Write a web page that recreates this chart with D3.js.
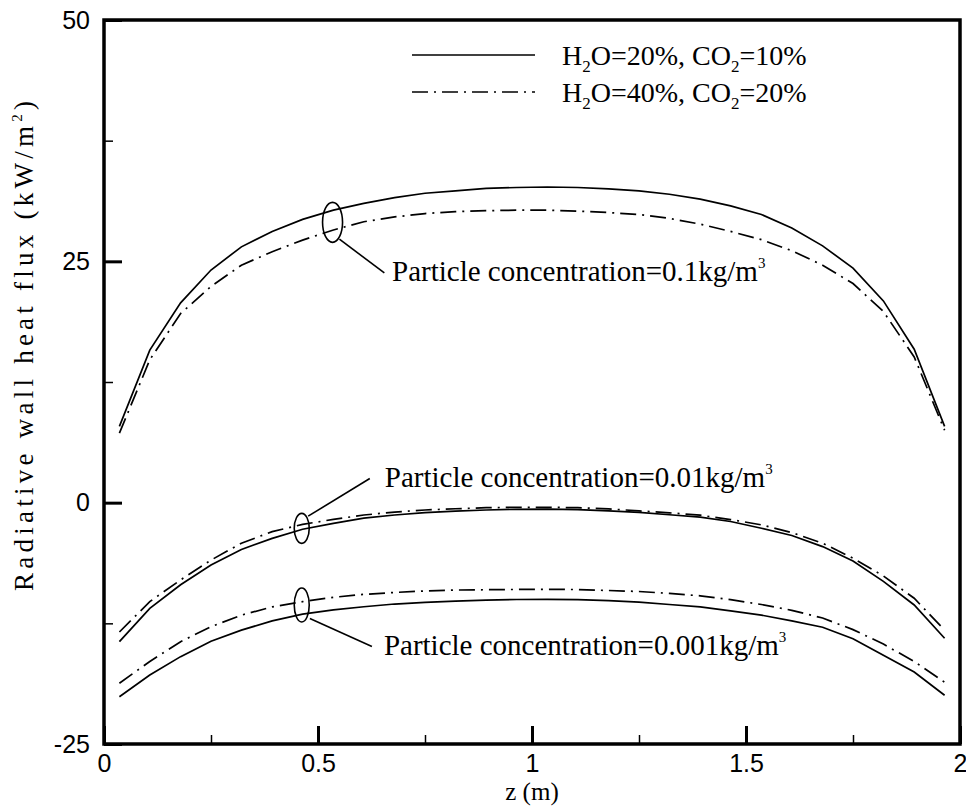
<!DOCTYPE html>
<html>
<head>
<meta charset="utf-8">
<script src="https://cdn.jsdelivr.net/npm/d3@7"></script>
<style>
  body { margin: 0; background: #fff; }
  svg { display: block; }
</style>
</head>
<body>
<svg id="chart" width="966" height="807"></svg>
<script>
// Axial positions along the wall (m)
const zPositions = [0.036, 0.107, 0.179, 0.250, 0.321, 0.393, 0.464, 0.536, 0.607, 0.679,
  0.750, 0.821, 0.893, 0.964, 1.036, 1.107, 1.179, 1.250, 1.321, 1.393,
  1.464, 1.536, 1.607, 1.679, 1.750, 1.821, 1.893, 1.964];

// Radiative wall heat flux (kW/m2), H2O=20%, CO2=10%
const fluxLowGas_c01 = [7.9, 15.8, 20.7, 24.1, 26.5, 28.1, 29.35, 30.3, 31.0, 31.6, 32.05, 32.3, 32.55, 32.65,
  32.7, 32.65, 32.5, 32.3, 31.95, 31.45, 30.75, 29.85, 28.45, 26.6, 24.3, 20.9, 15.9, 7.9];
const fluxLowGas_c001 = [-14.4, -10.95, -8.5, -6.45, -4.85, -3.7, -2.75, -2.15, -1.6, -1.28, -1.04, -0.87, -0.76, -0.69,
  -0.67, -0.72, -0.85, -1.0, -1.25, -1.5, -1.95, -2.65, -3.4, -4.55, -6.05, -8.15, -10.6, -14.05];
const fluxLowGas_c0001 = [-20.1, -17.85, -15.95, -14.35, -13.2, -12.25, -11.55, -11.1, -10.78, -10.5, -10.33, -10.19, -10.09, -10.03,
  -10.01, -10.05, -10.15, -10.3, -10.55, -10.8, -11.2, -11.65, -12.25, -12.9, -14.1, -15.8, -17.55, -19.95];

// Radiative wall heat flux (kW/m2), H2O=40%, CO2=20%
const fluxHighGas_c01 = [7.2, 14.8, 19.6, 22.4, 24.6, 26.0, 27.2, 28.25, 29.1, 29.6, 29.95, 30.15, 30.25, 30.3,
  30.3, 30.2, 30.05, 29.85, 29.45, 28.85, 28.1, 27.25, 26.1, 24.6, 22.7, 19.8, 15.1, 7.5];
const fluxHighGas_c001 = [-13.4, -10.25, -8.0, -5.95, -4.2, -3.0, -2.25, -1.73, -1.28, -0.97, -0.76, -0.63, -0.52, -0.48,
  -0.48, -0.52, -0.65, -0.85, -1.05, -1.3, -1.75, -2.3, -3.1, -4.2, -5.75, -7.6, -9.9, -13.2];
const fluxHighGas_c0001 = [-18.7, -16.45, -14.4, -12.85, -11.65, -10.8, -10.25, -9.8, -9.5, -9.3, -9.15, -9.05, -9.02, -8.99,
  -8.98, -9.0, -9.1, -9.2, -9.4, -9.65, -10.05, -10.55, -11.15, -11.95, -13.15, -14.65, -16.45, -18.6];

// Axis ticks and labels
const xMajorTicks = [0, 0.5, 1, 1.5, 2];
const xMajorLabels = ["0", "0.5", "1", "1.5", "2"];
const xMinorTicks = [0.25, 0.75, 1.25, 1.75];
const yMajorTicks = [-25, 0, 25, 50];
const yMajorLabels = ["-25", "0", "25", "50"];
const yMinorTicks = [-12.5, 12.5, 37.5];

// Legend entries
const legendGas = [
  { h2o: "20", co2: "10", dashed: false },
  { h2o: "40", co2: "20", dashed: true }
];

// Particle concentration callouts (data units): ellipse centre, leader end, label anchor
const callouts = [
  { label: "0.1", cz: 0.534, cv: 29.04, rx: 10, ry: 20, l0: [0.550, 27.3], l1: [0.655, 23.8], t: [0.673, 23.0] },
  { label: "0.01", cz: 0.462, cv: -2.66, rx: 7.5, ry: 15, l0: [0.477, -1.4], l1: [0.621, 2.5], t: [0.656, 1.65] },
  { label: "0.001", cz: 0.462, cv: -10.6, rx: 7.5, ry: 17, l0: [0.481, -12.0], l1: [0.626, -14.9], t: [0.654, -15.75] }
];

const svg = d3.select("#chart");
const plotLeft = 104, plotRight = 960, plotTop = 20, plotBottom = 744;

const x = d3.scaleLinear().domain([0, 2]).range([plotLeft, plotRight]);
const y = d3.scaleLinear().domain([-25, 50]).range([plotBottom, plotTop]);

const serif = "'Liberation Serif', 'Times New Roman', serif";
const sans = "'Liberation Sans', Arial, sans-serif";
const dashPattern = "16,6,2,6";

// Curves
const line = d3.line().x((d, i) => x(zPositions[i])).y(d => y(d));
const curves = [
  { v: fluxLowGas_c01, dashed: false }, { v: fluxHighGas_c01, dashed: true },
  { v: fluxLowGas_c001, dashed: false }, { v: fluxHighGas_c001, dashed: true },
  { v: fluxLowGas_c0001, dashed: false }, { v: fluxHighGas_c0001, dashed: true }
];
svg.append("g").selectAll("path").data(curves).join("path")
  .attr("d", d => line(d.v))
  .attr("fill", "none")
  .attr("stroke", "#000")
  .attr("stroke-width", 1.7)
  .attr("stroke-dasharray", d => d.dashed ? dashPattern : null);

// Major and minor ticks, pointing into the plot
const xMajor = d3.axisBottom(x).tickValues(xMajorTicks)
  .tickFormat((d, i) => xMajorLabels[i]).tickSizeInner(-18).tickSizeOuter(0).tickPadding(10);
const xMinor = d3.axisBottom(x).tickValues(xMinorTicks).tickFormat("").tickSizeInner(-9).tickSizeOuter(0);
const yMajor = d3.axisLeft(y).tickValues(yMajorTicks)
  .tickFormat((d, i) => yMajorLabels[i]).tickSizeInner(-18).tickSizeOuter(0).tickPadding(14);
const yMinor = d3.axisLeft(y).tickValues(yMinorTicks).tickFormat("").tickSizeInner(-9).tickSizeOuter(0);

function styleAxis(g, w) {
  g.select(".domain").remove();
  g.selectAll(".tick line").attr("stroke", "#000").attr("stroke-width", w);
  g.selectAll(".tick text").attr("fill", "#000").style("font-family", sans).style("font-size", "25px");
}
svg.append("g").attr("transform", `translate(0,${plotBottom})`).call(xMajor).call(g => styleAxis(g, 3));
svg.append("g").attr("transform", `translate(0,${plotBottom})`).call(xMinor).call(g => styleAxis(g, 1.5));
svg.append("g").attr("transform", `translate(${plotLeft},0)`).call(yMajor).call(g => styleAxis(g, 3));
svg.append("g").attr("transform", `translate(${plotLeft},0)`).call(yMinor).call(g => styleAxis(g, 1.5));

// Frame
svg.append("rect")
  .attr("x", plotLeft).attr("y", plotTop)
  .attr("width", plotRight - plotLeft).attr("height", plotBottom - plotTop)
  .attr("fill", "none").attr("stroke", "#000").attr("stroke-width", 3.5);

// Axis titles
svg.append("text")
  .attr("x", (plotLeft + plotRight) / 2).attr("y", 800)
  .attr("text-anchor", "middle")
  .style("font-family", serif).style("font-size", "25px")
  .text("z (m)");

const yTitle = svg.append("text")
  .attr("transform", `translate(33,${(97 + 595) / 2}) rotate(-90)`)
  .attr("text-anchor", "middle")
  .attr("textLength", 490).attr("lengthAdjust", "spacing")
  .style("font-family", serif).style("font-size", "27px");
yTitle.append("tspan").text("Radiative wall heat flux (kW/m");
yTitle.append("tspan").attr("dy", -11).style("font-size", "15px").text("2");
yTitle.append("tspan").attr("dy", 11).text(")");

// Legend
const legendY = [55, 92];
const lg = svg.append("g");
legendGas.forEach((d, i) => {
  lg.append("line")
    .attr("x1", 412).attr("x2", 535).attr("y1", legendY[i]).attr("y2", legendY[i])
    .attr("stroke", "#000").attr("stroke-width", 1.7)
    .attr("stroke-dasharray", d.dashed ? dashPattern : null);
  const t = lg.append("text").attr("x", 562).attr("y", legendY[i] + 10)
    .style("font-family", serif).style("font-size", "28px");
  t.append("tspan").text("H");
  t.append("tspan").attr("dy", 7).style("font-size", "17px").text("2");
  t.append("tspan").attr("dy", -7).text(`O=${d.h2o}%, CO`);
  t.append("tspan").attr("dy", 7).style("font-size", "17px").text("2");
  t.append("tspan").attr("dy", -7).text(`=${d.co2}%`);
});

// Callouts
const cg = svg.append("g");
callouts.forEach(c => {
  cg.append("ellipse")
    .attr("cx", x(c.cz)).attr("cy", y(c.cv)).attr("rx", c.rx).attr("ry", c.ry)
    .attr("fill", "none").attr("stroke", "#000").attr("stroke-width", 1.6);
  cg.append("line")
    .attr("x1", x(c.l0[0])).attr("y1", y(c.l0[1]))
    .attr("x2", x(c.l1[0])).attr("y2", y(c.l1[1]))
    .attr("stroke", "#000").attr("stroke-width", 1.6);
  const t = cg.append("text").attr("x", x(c.t[0])).attr("y", y(c.t[1]))
    .style("font-family", serif).style("font-size", "29px");
  t.append("tspan").text(`Particle concentration=${c.label}kg/m`);
  t.append("tspan").attr("dy", -13).style("font-size", "15px").text("3");
});
</script>
</body>
</html>
